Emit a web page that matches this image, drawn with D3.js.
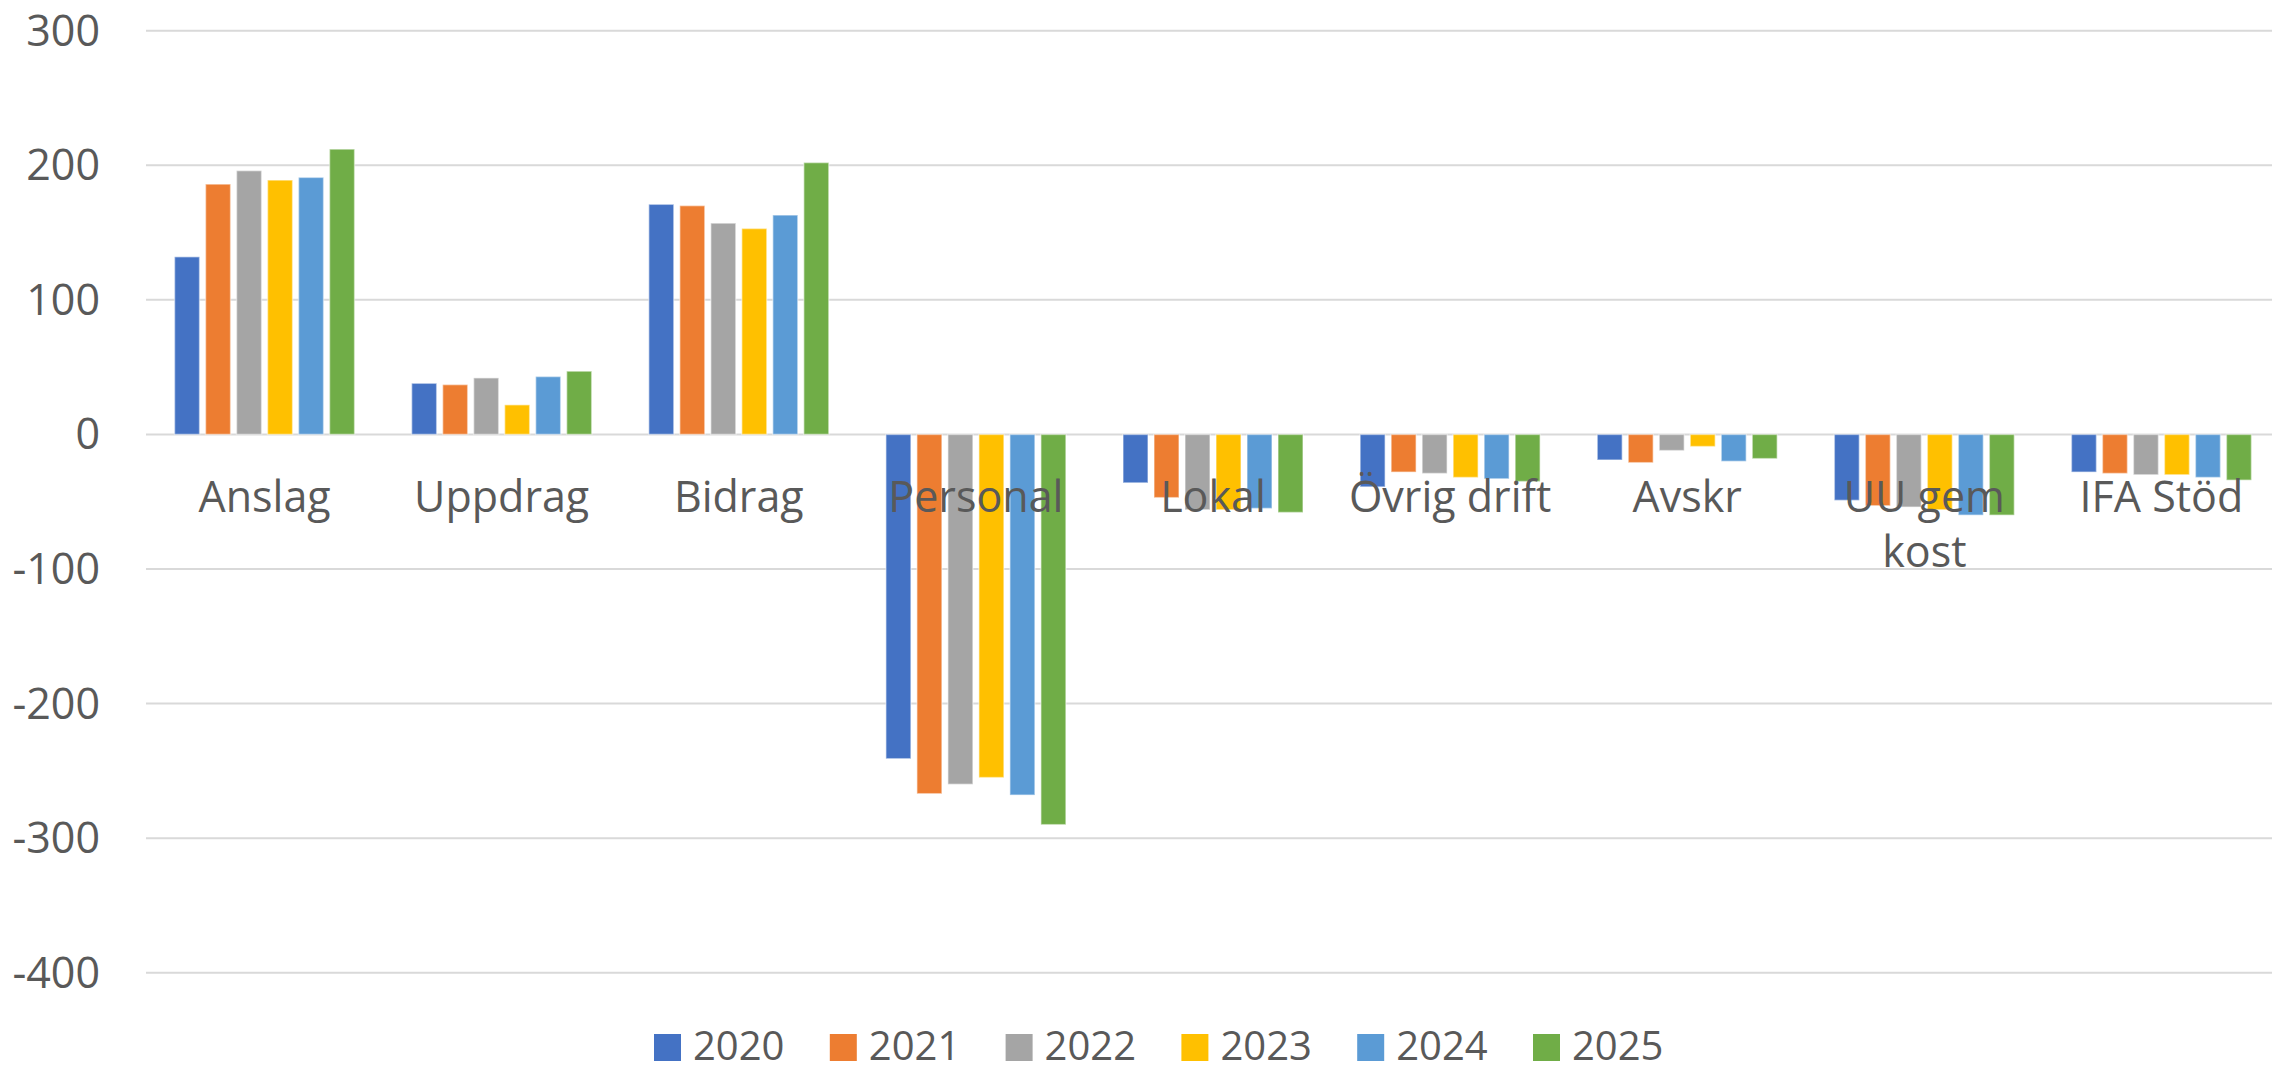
<!DOCTYPE html>
<html lang="sv">
<head>
<meta charset="UTF-8">
<title>Budget per kategori 2020–2025</title>
<script src="https://d3js.org/d3.v7.min.js"></script>
<style>
  body { margin: 0; background: #fff; }
  svg { display: block; font-family: "Open Sans", "Noto Sans", sans-serif; }
  .tick-label { fill: #595959; font-size: 43px; }
  .legend-label { fill: #595959; font-size: 40px; }
  .grid line { stroke: #d9d9d9; stroke-width: 2px; }
</style>
</head>
<body>
<svg width="2272" height="1072"></svg>
<script>
// kategorier och år
const categories = ["Anslag", "Uppdrag", "Bidrag", "Personal", "Lokal", "Övrig drift", "Avskr", "UU gem kost", "IFA Stöd"];
const years = ["2020", "2021", "2022", "2023", "2024", "2025"];
const colors = ["#4472c4", "#ed7d31", "#a5a5a5", "#ffc000", "#5b9bd5", "#70ad47"];

// värden per år, i kategoriordning
const v2020 = [132, 38, 171, -241, -36, -39, -19, -49, -28];
const v2021 = [186, 37, 170, -267, -47, -28, -21, -53, -29];
const v2022 = [196, 42, 157, -260, -56, -29, -12, -54, -30];
const v2023 = [189, 22, 153, -255, -56, -32, -9, -56, -30];
const v2024 = [191, 43, 163, -268, -55, -33, -20, -60, -32];
const v2025 = [212, 47, 202, -290, -58, -35, -18, -60, -34];
const series = [v2020, v2021, v2022, v2023, v2024, v2025];

const yTicks = [300, 200, 100, 0, -100, -200, -300, -400];

const svg = d3.select("svg");

const plotLeft = 146, plotRight = 2280;
const y = d3.scaleLinear().domain([-400, 300]).range([972.7, 30.7]);
const x0 = d3.scaleBand().domain(categories).range([plotLeft, plotRight]).padding(0);
const groupW = 180;
const x1 = d3.scaleBand().domain(years).range([0, groupW]).paddingInner(6 / 31).paddingOuter(0);

// stödlinjer
svg.append("g").attr("class", "grid")
  .selectAll("line").data(yTicks).enter().append("line")
  .attr("x1", plotLeft).attr("x2", 2272)
  .attr("y1", d => y(d)).attr("y2", d => y(d));

// y-axelns etiketter
svg.append("g").selectAll("text").data(yTicks).enter().append("text")
  .attr("class", "tick-label")
  .attr("x", 100).attr("y", d => y(d))
  .attr("dy", "0.35em")
  .attr("text-anchor", "end")
  .text(d => d);

// staplar
const groups = svg.append("g").selectAll("g").data(categories).enter().append("g")
  .attr("transform", c => `translate(${x0(c) + (x0.bandwidth() - groupW) / 2},0)`);

groups.selectAll("rect")
  .data((c, ci) => years.map((yr, si) => ({ yr, si, v: series[si][ci] })))
  .enter().append("rect")
  .attr("x", d => x1(d.yr))
  .attr("width", x1.bandwidth())
  .attr("y", d => y(Math.max(0, d.v)))
  .attr("height", d => Math.abs(y(d.v) - y(0)))
  .attr("fill", d => colors[d.si])
  .attr("stroke", "rgba(255,255,255,0.45)")
  .attr("stroke-width", 1.5);

// kategorietiketter (radbrytning för "UU gem kost")
const catLabels = svg.append("g").selectAll("text").data(categories).enter().append("text")
  .attr("class", "tick-label")
  .attr("text-anchor", "middle")
  .attr("x", c => x0(c) + x0.bandwidth() / 2)
  .attr("y", 512);

catLabels.each(function (c) {
  const t = d3.select(this);
  const lines = c === "UU gem kost" ? ["UU gem", "kost"] : [c];
  lines.forEach((ln, i) => {
    t.append("tspan")
      .attr("x", x0(c) + x0.bandwidth() / 2)
      .attr("dy", i === 0 ? 0 : 55)
      .text(ln);
  });
});

// förklaring
const legendStart = 654, legendStep = 175.8;
const legend = svg.append("g").selectAll("g").data(years).enter().append("g")
  .attr("transform", (d, i) => `translate(${legendStart + i * legendStep},0)`);
legend.append("rect")
  .attr("x", 0).attr("y", 1034).attr("width", 27).attr("height", 27)
  .attr("fill", (d, i) => colors[i]);
legend.append("text")
  .attr("class", "legend-label")
  .attr("x", 39).attr("y", 1060)
  .text(d => d);
</script>
</body>
</html>
